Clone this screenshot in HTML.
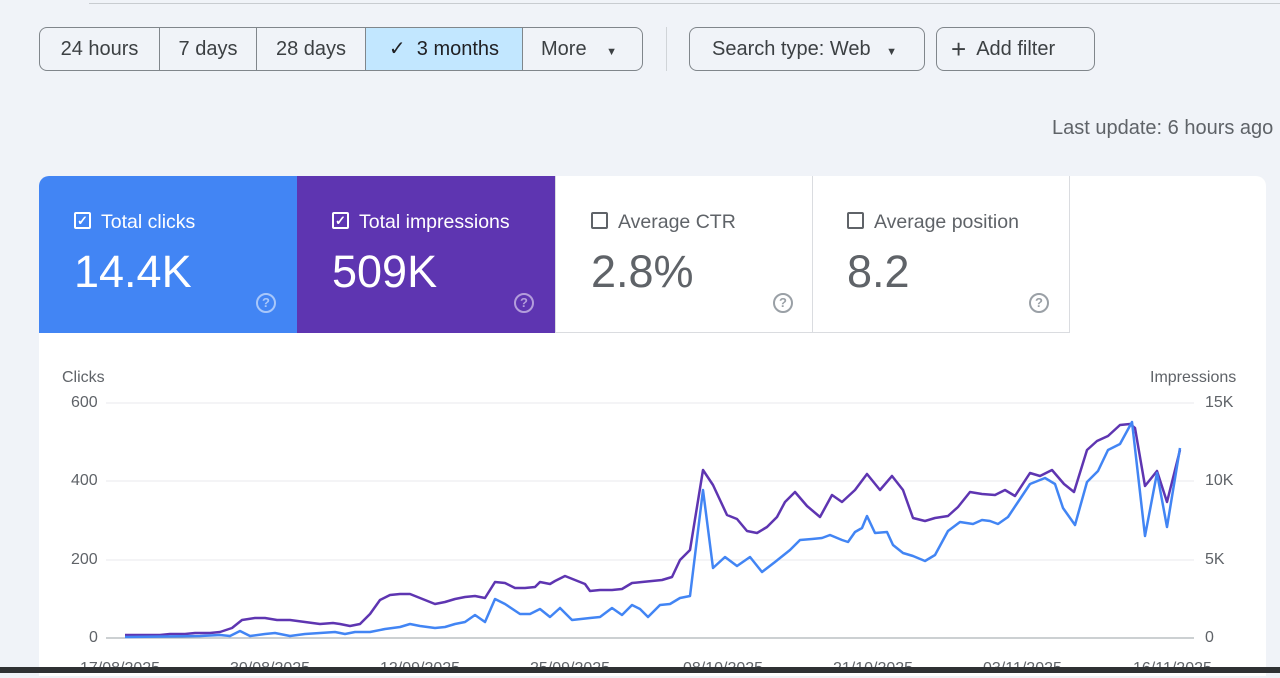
<!DOCTYPE html><html><head><style>
body{margin:0;width:1280px;height:673px;overflow:hidden;background:#f0f3f8;font-family:"Liberation Sans",sans-serif;position:relative;color:#3c4043}
.a{position:absolute}
.btn{position:absolute;top:27px;height:44px;border:1px solid #80868b;border-radius:8px;box-sizing:border-box;font-size:20px;line-height:42px;color:#3c4043;white-space:nowrap}
.seg{position:absolute;top:0;height:42px;border-left:1px solid #80868b;text-align:center;box-sizing:border-box}
.card{position:absolute;top:176px;width:258px;height:157px;box-sizing:border-box}
.card .t{position:absolute;left:35px;top:35px;font-size:19.5px}
.card .v{position:absolute;left:35px;top:70px;font-size:45px}
.cb{position:absolute;left:35px;top:36px;width:17px;height:17px;border:2px solid;border-radius:2px;box-sizing:border-box;font-size:13px;line-height:13px;text-align:center;font-weight:bold}
.q{position:absolute;left:217px;top:117px;width:20px;height:20px;border:2px solid;border-radius:50%;box-sizing:border-box;font-size:13px;text-align:center;line-height:16px;font-weight:bold}
.yl{position:absolute;font-size:16px;color:#5f6368}
</style></head><body>
<div class="a" style="left:89px;top:3px;width:1191px;height:1px;background:#c8ccd0"></div>
<div class="btn" style="left:39px;width:604px">
<div class="seg" style="left:0;width:119px;border:0">24 hours</div>
<div class="seg" style="left:119px;width:97px">7 days</div>
<div class="seg" style="left:216px;width:109px">28 days</div>
<div class="seg" style="left:325px;width:157px;background:#c2e7ff;color:#202124">✓&nbsp; 3 months</div>
<div class="seg" style="left:482px;width:120px;text-align:left;padding-left:18px">More <span style="font-size:11px;margin-left:14px">▼</span></div>
</div>
<div class="a" style="left:666px;top:27px;width:1px;height:44px;background:#d0d4d8"></div>
<div class="btn" style="left:689px;width:236px;padding-left:22px">Search type: Web <span style="font-size:11px;margin-left:10px">▼</span></div>
<div class="btn" style="left:936px;width:159px;padding-left:14px"><span style="font-size:26px;vertical-align:-3px">+</span>&nbsp; Add filter</div>
<div class="a" style="left:1052px;top:117px;font-size:20px;color:#5f6368;white-space:nowrap">Last update: 6 hours ago</div>
<div class="a" style="left:39px;top:176px;width:1227px;height:500px;background:#fff;border-radius:10px 10px 0 0;overflow:hidden">
</div>
<div class="card" style="left:39px;background:#4285f4;color:#fff;border-top-left-radius:10px"><div class="cb" style="border-color:#fff">✓</div><div class="t" style="left:62px">Total clicks</div><div class="v">14.4K</div><div class="q" style="border-color:#a8c7fa;color:#a8c7fa">?</div></div>
<div class="card" style="left:297px;background:#5e35b1;color:#fff"><div class="cb" style="border-color:#fff">✓</div><div class="t" style="left:62px">Total impressions</div><div class="v">509K</div><div class="q" style="border-color:#b39ddb;color:#b39ddb">?</div></div>
<div class="card" style="left:555px;border:1px solid #dadce0;border-top:0;color:#5f6368"><div class="cb" style="border-color:#5f6368"></div><div class="t" style="left:62px">Average CTR</div><div class="v" style="color:#5f6368">2.8%</div><div class="q" style="border-color:#9aa0a6;color:#9aa0a6">?</div></div>
<div class="card" style="left:812px;width:258px;border:1px solid #dadce0;border-top:0;border-left:0;color:#5f6368"><div class="cb" style="border-color:#5f6368"></div><div class="t" style="left:62px">Average position</div><div class="v" style="color:#5f6368">8.2</div><div class="q" style="border-color:#9aa0a6;color:#9aa0a6">?</div></div>
<div class="yl" style="left:62px;top:369px">Clicks</div>
<div class="yl" style="left:1150px;top:369px">Impressions</div>
<div class="yl" style="left:71px;top:394px">600</div><div class="yl" style="left:71px;top:472px">400</div><div class="yl" style="left:71px;top:551px">200</div><div class="yl" style="left:89px;top:629px">0</div>
<div class="yl" style="left:1205px;top:394px">15K</div><div class="yl" style="left:1205px;top:472px">10K</div><div class="yl" style="left:1205px;top:551px">5K</div><div class="yl" style="left:1205px;top:629px">0</div>
<div class="yl" style="top:660px;left:80px;width:1180px;height:14px;overflow:visible">
<span class="a" style="left:0">17/08/2025</span><span class="a" style="left:150px">30/08/2025</span><span class="a" style="left:300px">12/09/2025</span><span class="a" style="left:450px">25/09/2025</span><span class="a" style="left:603px">08/10/2025</span><span class="a" style="left:753px">21/10/2025</span><span class="a" style="left:903px">03/11/2025</span><span class="a" style="left:1053px">16/11/2025</span></div>
<svg class="a" style="left:0;top:0" width="1280" height="673">
<g stroke="#e8eaed" stroke-width="1"><line x1="106" y1="403" x2="1194" y2="403"/><line x1="106" y1="481" x2="1194" y2="481"/><line x1="106" y1="560" x2="1194" y2="560"/></g>
<line x1="106" y1="638" x2="1194" y2="638" stroke="#9aa0a6"/>
<polyline fill="none" stroke="#5e35b1" stroke-width="2.5" stroke-linejoin="round" points="125,635 160,635 170,634 185,634 195,633 210,633 220,632 232,628 242,620 255,618 265,618 277,620 290,620 305,622 320,624 333,623 340,624 350,626 360,624 370,614 380,600 390,595 400,594 410,594 420,598 435,604 445,602 455,599 465,597 475,596 485,598 495,582 505,583 515,588 525,588 535,587 540,582 550,584 555,581 565,576 575,580 585,584 590,591 600,590 612,590 622,589 632,583 642,582 652,581 662,580 672,577 680,560 690,550 703,470 713,485 720,500 727,515 737,519 747,531 757,533 767,527 777,517 785,502 795,492 807,506 820,517 832,495 842,502 855,490 867,474 880,490 892,476 903,490 913,518 925,521 935,518 948,516 958,507 970,492 982,494 995,495 1005,490 1015,496 1030,473 1040,476 1052,470 1064,484 1074,492 1087,450 1097,441 1108,436 1120,425 1130,424 1135,428 1145,486 1157,471 1167,502 1180,450"/>
<polyline fill="none" stroke="#4285f4" stroke-width="2.5" stroke-linejoin="round" points="125,637 200,636 220,635 230,636 240,631 250,636 265,634 275,633 290,636 305,634 320,633 335,632 345,634 355,632 370,632 385,629 400,627 410,624 420,626 435,628 445,627 455,624 465,622 475,615 485,622 495,599 505,604 520,614 530,614 540,609 550,617 560,608 572,620 590,618 600,617 612,608 622,615 632,605 640,609 648,617 660,605 670,604 680,598 690,596 703,490 713,568 725,557 737,566 750,557 762,572 775,562 790,550 800,540 812,539 822,538 830,535 842,540 848,542 855,532 862,528 867,516 875,533 887,532 893,545 903,553 913,556 925,561 935,555 948,531 960,522 973,524 982,520 990,521 998,524 1008,517 1018,502 1030,484 1045,478 1055,484 1063,508 1075,525 1087,482 1098,471 1108,450 1120,444 1132,422 1145,536 1157,473 1167,527 1180,448"/>
</svg>
<div class="a" style="left:0;top:667px;width:1280px;height:6px;background:#2f3133"></div>
</body></html>
